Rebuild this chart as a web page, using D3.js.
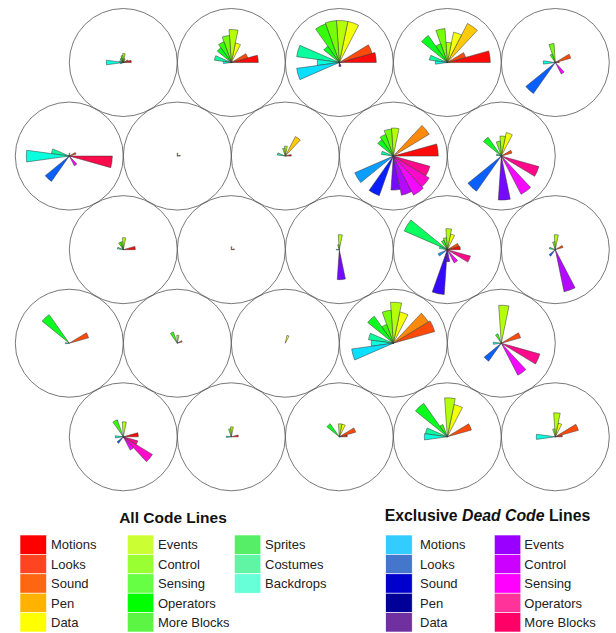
<!DOCTYPE html>
<html>
<head>
<meta charset="utf-8">
<script src="https://cdn.jsdelivr.net/npm/d3@7/dist/d3.min.js"></script>
<style>
  body { margin: 0; background: #fff; }
  svg { display: block; }
  text { font-family: "Liberation Sans", Arial, sans-serif; }
</style>
</head>
<body>
<svg id="chart" width="616" height="633"></svg>
<script>
// Block categories counted in every project
const allCategories = ["Motions", "Looks", "Sound", "Pen", "Data", "Events", "Control",
  "Sensing", "Operators", "More Blocks", "Sprites", "Costumes", "Backdrops"];
const deadCategories = ["Motions", "Looks", "Sound", "Pen", "Data", "Events", "Control",
  "Sensing", "Operators", "More Blocks"];

const allLegendColors = ["#ff0000", "#ff4422", "#ff6611", "#ffb300", "#ffff00", "#ccff33",
  "#99ff33", "#66ff44", "#00ff00", "#5cf544", "#55ee66", "#5ff5a5", "#66ffd8"];
const deadLegendColors = ["#33ccff", "#4477cc", "#0000cc", "#000099", "#7030a0", "#9900ff",
  "#cc00ff", "#ff00ff", "#ff3399", "#ff0066"];

// Relative line counts per project (5 rows x 5 projects), all code lines
const allCodeLines = [
  [8, 5, 0, 0, 4, 9, 7, 5, 4, 0, 4, 17, 3],
  [27, 17, 0, 0, 20, 33, 27, 22, 18, 0, 17, 8, 0],
  [37, 34, 0, 0, 42, 42, 42, 41, 20, 0, 43, 22, 43],
  [43, 19, 0, 44, 31, 20, 34, 20, 33, 0, 18, 12, 0],
  [4, 16, 0, 0, 0, 0, 19, 9, 0, 0, 0, 12, 0],

  [0, 7, 0, 0, 0, 3, 0, 0, 0, 0, 18, 43, 0],
  [3, 0, 0, 0, 0, 3, 0, 0, 0, 0, 0, 0, 0],
  [6, 0, 0, 22, 0, 10, 8, 0, 0, 0, 8, 0, 0],
  [45, 0, 42, 0, 0, 28, 27, 23, 20, 0, 12, 0, 0],
  [0, 11, 0, 0, 24, 20, 15, 0, 23, 0, 5, 0, 0],

  [12, 0, 0, 0, 0, 12, 8, 8, 0, 0, 6, 0, 0],
  [3, 0, 0, 0, 0, 3, 0, 0, 0, 0, 0, 0, 0],
  [0, 0, 0, 0, 0, 15, 5, 0, 0, 0, 0, 3, 0],
  [13, 12, 0, 0, 16, 21, 12, 10, 0, 47, 8, 0, 0],
  [0, 8, 0, 0, 0, 15, 8, 0, 0, 0, 6, 0, 0],

  [0, 20, 0, 0, 0, 0, 0, 0, 35, 0, 0, 4, 0],
  [0, 5, 0, 0, 0, 8, 0, 12, 0, 0, 0, 0, 0],
  [0, 0, 0, 0, 8, 0, 0, 0, 0, 0, 0, 0, 0],
  [0, 43, 41, 0, 32, 41, 33, 20, 33, 0, 25, 22, 42],
  [0, 20, 0, 0, 0, 38, 0, 10, 0, 0, 0, 8, 0],

  [15, 0, 0, 0, 0, 15, 0, 18, 0, 0, 0, 8, 0],
  [7, 0, 0, 0, 0, 10, 8, 0, 0, 0, 0, 5, 0],
  [8, 17, 0, 0, 13, 13, 0, 0, 16, 0, 0, 0, 0],
  [0, 25, 0, 0, 33, 39, 0, 13, 41, 0, 22, 23, 0],
  [7, 24, 0, 0, 14, 24, 8, 0, 0, 0, 0, 19, 0]
];

// Relative line counts per project, exclusive dead code lines
const deadCodeLines = [
  [0, 0, 0, 0, 0, 0, 0, 0, 0, 0],
  [0, 0, 0, 0, 0, 0, 0, 0, 0, 0],
  [0, 0, 0, 0, 4, 4, 0, 0, 0, 0],
  [0, 0, 0, 0, 0, 0, 0, 0, 0, 0],
  [0, 38, 0, 0, 0, 0, 13, 0, 0, 0],

  [0, 31, 0, 0, 0, 0, 11, 0, 0, 43],
  [0, 0, 0, 0, 0, 0, 0, 0, 0, 0],
  [0, 0, 0, 0, 0, 0, 0, 0, 0, 0],
  [42, 0, 42, 0, 34, 40, 44, 42, 38, 0],
  [0, 43, 0, 0, 44, 0, 43, 0, 39, 0],

  [0, 0, 0, 0, 0, 0, 0, 0, 0, 0],
  [0, 0, 0, 0, 0, 0, 0, 0, 0, 0],
  [0, 0, 0, 0, 30, 0, 0, 0, 0, 0],
  [10, 0, 0, 45, 12, 0, 15, 0, 24, 0],
  [0, 8, 0, 0, 0, 43, 0, 0, 0, 0],

  [0, 0, 0, 0, 0, 0, 0, 0, 0, 0],
  [0, 0, 0, 0, 0, 0, 0, 0, 0, 0],
  [0, 0, 0, 0, 0, 0, 0, 0, 0, 0],
  [0, 0, 0, 0, 0, 0, 0, 0, 0, 0],
  [0, 22, 0, 0, 0, 0, 36, 0, 40, 0],

  [0, 8, 0, 0, 0, 0, 15, 34, 15, 0],
  [0, 0, 0, 0, 0, 0, 0, 0, 0, 0],
  [0, 0, 0, 0, 0, 0, 0, 0, 0, 0],
  [0, 0, 0, 0, 0, 0, 0, 0, 0, 0],
  [0, 0, 0, 0, 0, 0, 0, 0, 0, 0]
];

const columns = 5;
const R = 54;                 // circle radius
const valueMax = 54;          // value drawn at the circle edge

const svg = d3.select("#chart");

const colX = d3.scaleLinear().domain([0, 4]).range([123.3, 555.3]);
const rowY = d3.scaleLinear().domain([0, 4]).range([62.5, 436.8]);
const rScale = d3.scaleLinear().domain([0, valueMax]).range([0, R]);

const nSlots = allCategories.length + deadCategories.length;
const slot = 2 * Math.PI / nSlots;
// slot k runs counterclockwise from east; d3.arc angles run clockwise from north
const arc = d3.arc()
  .innerRadius(0)
  .outerRadius(d => rScale(d.value))
  .startAngle(d => Math.PI / 2 - (d.k + 1) * slot)
  .endAngle(d => Math.PI / 2 - d.k * slot);
// rainbow hue stepping once per slot, red at the first
const wedgeColor = k => d3.hsl(k * 360 / nSlots, 1, 0.52).formatHex();

const projects = allCodeLines.map((vals, i) => {
  const row = Math.floor(i / columns), col = i % columns;
  const wedges = vals.map((v, j) => ({ k: j, value: v }))
    .concat(deadCodeLines[i].map((v, j) => ({ k: allCategories.length + j, value: v })))
    .filter(d => d.value > 0);
  return {
    x: colX(col) - (row % 2 ? (colX(1) - colX(0)) / 2 : 0),
    y: rowY(row),
    wedges
  };
});

const g = svg.selectAll("g.project").data(projects).join("g")
  .attr("class", "project")
  .attr("transform", d => `translate(${d.x},${d.y})`);

g.append("circle")
  .attr("r", R)
  .attr("fill", "none")
  .attr("stroke", "#555")
  .attr("stroke-width", 0.8);

g.selectAll("path").data(d => d.wedges).join("path")
  .attr("d", arc)
  .attr("fill", d => wedgeColor(d.k))
  .attr("stroke", "#333")
  .attr("stroke-width", 0.5)
  .attr("stroke-linejoin", "round");

// Legends
const rowH = 19.4, swW = 26.5, legTop = 535;

function legendBlock(names, colors, colXs, textXs) {
  const items = names.map((n, i) => ({ n, c: colors[i], col: Math.floor(i / 5), r: i % 5 }));
  const lg = svg.append("g");
  lg.selectAll("rect").data(items).join("rect")
    .attr("x", d => colXs[d.col])
    .attr("y", d => legTop + d.r * rowH)
    .attr("width", swW)
    .attr("height", rowH)
    .attr("fill", d => d.c)
    .attr("stroke", "#fff")
    .attr("stroke-width", 0.6);
  lg.selectAll("text").data(items).join("text")
    .attr("x", d => textXs[d.col])
    .attr("y", d => legTop + d.r * rowH + rowH / 2)
    .attr("dy", "0.36em")
    .attr("font-size", 13)
    .attr("fill", "#222")
    .text(d => d.n);
}

svg.append("text")
  .attr("x", 173).attr("y", 523)
  .attr("text-anchor", "middle")
  .attr("font-size", 15.5).attr("font-weight", "bold")
  .attr("fill", "#111")
  .text("All Code Lines");

const t2 = svg.append("text")
  .attr("x", 487.5).attr("y", 521)
  .attr("text-anchor", "middle")
  .attr("font-size", 15.8).attr("font-weight", "bold")
  .attr("fill", "#111");
t2.append("tspan").text("Exclusive ");
t2.append("tspan").attr("font-style", "italic").text("Dead Code");
t2.append("tspan").text(" Lines");

legendBlock(allCategories, allLegendColors, [20, 127.3, 234.3], [51, 158, 265]);
legendBlock(deadCategories, deadLegendColors, [385.7, 494.3], [420, 524.3]);
</script>
</body>
</html>
